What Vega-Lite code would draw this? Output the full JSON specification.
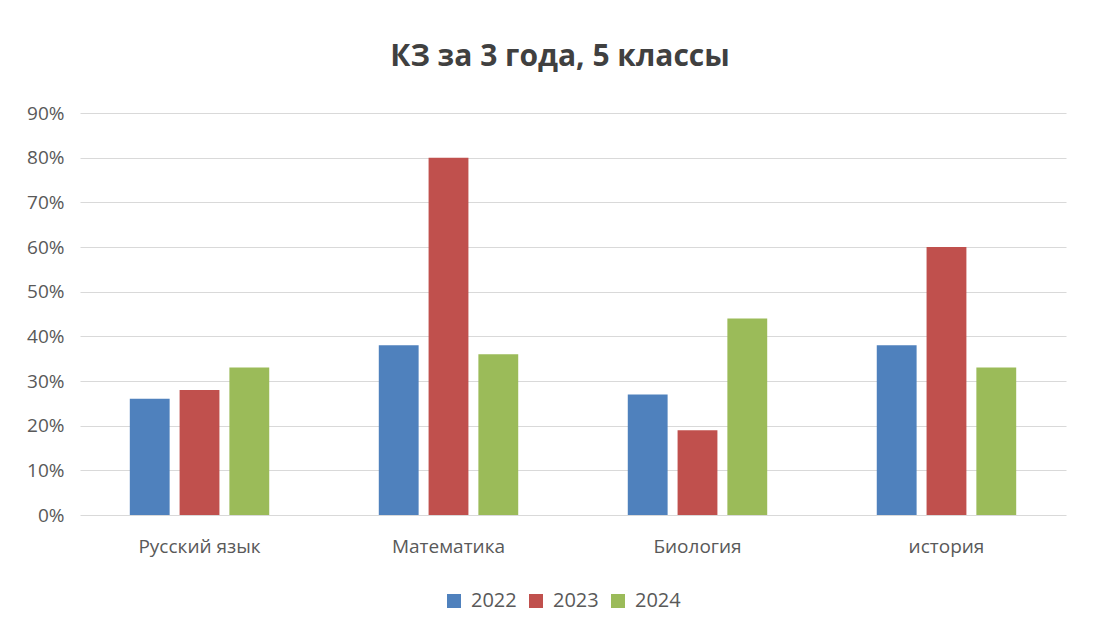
{
  "$schema": "https://vega.github.io/schema/vega-lite/v6.json",
  "width": 986,
  "height": 402,
  "autosize": {"type": "none"},
  "padding": {"left": 80, "top": 113, "right": 37, "bottom": 118},
  "background": "white",
  "title": {
    "text": "КЗ за 3 года, 5 классы",
    "font": "Open Sans",
    "fontSize": 30,
    "fontWeight": "bold",
    "color": "#404040",
    "anchor": "middle",
    "offset": 32,
    "dx": -13
  },
  "data": {
    "values": [
      {"subject": "Русский язык", "year": "2022", "value": 0.26},
      {"subject": "Русский язык", "year": "2023", "value": 0.28},
      {"subject": "Русский язык", "year": "2024", "value": 0.33},
      {"subject": "Математика", "year": "2022", "value": 0.38},
      {"subject": "Математика", "year": "2023", "value": 0.80},
      {"subject": "Математика", "year": "2024", "value": 0.36},
      {"subject": "Биология", "year": "2022", "value": 0.27},
      {"subject": "Биология", "year": "2023", "value": 0.19},
      {"subject": "Биология", "year": "2024", "value": 0.44},
      {"subject": "история", "year": "2022", "value": 0.38},
      {"subject": "история", "year": "2023", "value": 0.60},
      {"subject": "история", "year": "2024", "value": 0.33}
    ]
  },
  "mark": {"type": "bar"},
  "encoding": {
    "x": {
      "field": "subject",
      "type": "nominal",
      "sort": null,
      "scale": {"paddingInner": 0.44, "paddingOuter": 0.2},
      "axis": {
        "title": null,
        "labelAngle": 0,
        "labelFont": "Open Sans",
        "labelFontSize": 19,
        "labelColor": "#595959",
        "labelPadding": 22,
        "ticks": false,
        "domain": false,
        "grid": false
      }
    },
    "xOffset": {
      "field": "year",
      "type": "nominal",
      "scale": {"paddingInner": 0.2}
    },
    "y": {
      "field": "value",
      "type": "quantitative",
      "scale": {"domain": [0, 0.9], "nice": false},
      "axis": {
        "title": null,
        "format": ".0%",
        "values": [0, 0.1, 0.2, 0.3, 0.4, 0.5, 0.6, 0.7, 0.8, 0.9],
        "labelFont": "Open Sans",
        "labelFontSize": 19,
        "labelColor": "#595959",
        "labelPadding": 16,
        "ticks": false,
        "domain": false,
        "grid": true,
        "gridColor": "#d9d9d9",
        "gridWidth": 1
      }
    },
    "color": {
      "field": "year",
      "type": "nominal",
      "scale": {"domain": ["2022", "2023", "2024"], "range": ["#4F81BD", "#C0504D", "#9BBB59"]},
      "legend": {
        "title": null,
        "orient": "none",
        "direction": "horizontal",
        "legendX": 364,
        "legendY": 478,
        "symbolType": "square",
        "symbolSize": 196,
        "symbolStrokeWidth": 0,
        "labelFont": "Open Sans",
        "labelFontSize": 20,
        "labelColor": "#595959",
        "labelOffset": 7,
        "columnPadding": 9
      }
    }
  },
  "config": {
    "view": {"stroke": null}
  }
}
